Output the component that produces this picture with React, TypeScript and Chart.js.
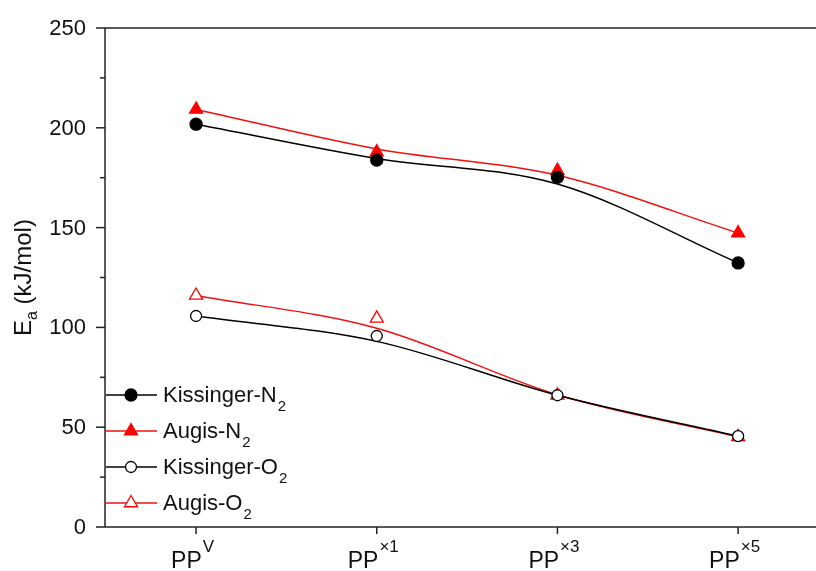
import { useEffect, useRef } from 'react';
import { Chart, registerables } from 'chart.js';

Chart.register(...registerables);

// ---- data ----
const categoryBase = ['PP', 'PP', 'PP', 'PP'];
const categorySup = ['V', '×1', '×3', '×5'];
const categoryPos = [0, 1, 2, 3];

const yTicks = [0, 50, 100, 150, 200, 250];
const yMinorTicks = [25, 75, 125, 175, 225];

// measured points
const kissingerN2 = [201.8, 183.8, 175.2, 132.3];
const augisN2 = [209.2, 187.8, 178.6, 147.3];
const kissingerO2 = [105.7, 95.7, 66.0, 45.5];
const augisO2 = [116.0, 104.5, 66.0, 45.2];

// smoothed fit curves (at each category)
const kissingerN2Fit = [201.8, 184.6, 171.8, 132.3];
const augisN2Fit = [209.2, 189.4, 176.2, 147.3];
const kissingerO2Fit = [105.7, 93.0, 66.0, 45.5];
const augisO2Fit = [116.0, 99.6, 66.3, 45.2];

const legendBase = ['Kissinger-N', 'Augis-N', 'Kissinger-O', 'Augis-O'];
const legendSub = ['2', '2', '2', '2'];

const BLACK = '#000000';
const RED = '#ff0000';
const RED_LINE = '#ee1111';
const FONT = '"Liberation Sans", Arial, sans-serif';

const toXY = (vals: number[]) => vals.map((v, i) => ({ x: categoryPos[i], y: v }));

type MarkerSpec = { style: string; color: string; filled: boolean; radius: number; lineColor: string };
const markerSpecs: MarkerSpec[] = [
  { style: 'circle', color: BLACK, filled: true, radius: 6, lineColor: BLACK },
  { style: 'triangle', color: RED, filled: true, radius: 7.5, lineColor: RED_LINE },
  { style: 'circle', color: BLACK, filled: false, radius: 5.5, lineColor: BLACK },
  { style: 'triangle', color: RED, filled: false, radius: 7.5, lineColor: RED_LINE },
];

const decorPlugin = {
  id: 'decor',
  afterDraw(chart: any) {
    const ctx: CanvasRenderingContext2D = chart.ctx;
    const { left, right, top, bottom } = chart.chartArea;
    const xs = chart.scales.x;
    const ys = chart.scales.y;
    ctx.save();
    ctx.strokeStyle = '#222';
    ctx.lineWidth = 1.5;
    const line = (x1: number, y1: number, x2: number, y2: number) => {
      ctx.beginPath();
      ctx.moveTo(x1, y1);
      ctx.lineTo(x2, y2);
      ctx.stroke();
    };
    // axes frame
    line(left, top, left, bottom);
    line(left, bottom, right, bottom);
    line(left, top, right, top);

    // y ticks
    ctx.fillStyle = '#111';
    ctx.font = `22px ${FONT}`;
    ctx.textAlign = 'right';
    ctx.textBaseline = 'middle';
    yTicks.forEach((v) => {
      const py = ys.getPixelForValue(v);
      line(left - 9, py, left, py);
      ctx.fillText(String(v), left - 19, py + 1);
    });
    yMinorTicks.forEach((v) => {
      const py = ys.getPixelForValue(v);
      line(left - 5, py, left, py);
    });

    // x ticks + labels
    ctx.textAlign = 'left';
    ctx.textBaseline = 'alphabetic';
    categoryPos.forEach((p, i) => {
      const px = xs.getPixelForValue(p);
      line(px, bottom, px, bottom + 7);
      ctx.font = `23px ${FONT}`;
      const wb = ctx.measureText(categoryBase[i]).width;
      ctx.font = `17px ${FONT}`;
      const wsup = ctx.measureText(categorySup[i]).width;
      const start = px - (wb + wsup) / 2 - 4;
      ctx.font = `23px ${FONT}`;
      ctx.fillText(categoryBase[i], start, bottom + 41);
      ctx.font = `17px ${FONT}`;
      ctx.fillText(categorySup[i], start + wb + 1, bottom + 25);
    });

    // y axis title
    ctx.save();
    ctx.translate(31, (top + bottom) / 2);
    ctx.rotate(-Math.PI / 2);
    ctx.font = `24px ${FONT}`;
    const wE = ctx.measureText('E').width;
    ctx.font = `16px ${FONT}`;
    const wa = ctx.measureText('a').width;
    ctx.font = `24px ${FONT}`;
    const wRest = ctx.measureText(' (kJ/mol)').width;
    const total = wE + wa + wRest;
    let cx = -total / 2;
    ctx.textBaseline = 'alphabetic';
    ctx.fillText('E', cx, 0);
    cx += wE;
    ctx.font = `16px ${FONT}`;
    ctx.fillText('a', cx, 6);
    cx += wa;
    ctx.font = `24px ${FONT}`;
    ctx.fillText(' (kJ/mol)', cx, 0);
    ctx.restore();

    // legend
    const rowY = [395, 431, 467, 503];
    legendBase.forEach((name, i) => {
      const y = rowY[i];
      const m = markerSpecs[i];
      ctx.strokeStyle = m.lineColor;
      ctx.lineWidth = 1.5;
      line(left + 1, y, left + 52, y);
      ctx.lineWidth = 1.3;
      ctx.strokeStyle = m.color;
      ctx.fillStyle = m.filled ? m.color : '#ffffff';
      ctx.beginPath();
      if (m.style === 'circle') {
        ctx.arc(left + 26, y, m.radius, 0, Math.PI * 2);
      } else {
        const r = m.radius;
        ctx.moveTo(left + 26, y - r);
        ctx.lineTo(left + 26 + r * Math.sin((2 * Math.PI) / 3), y - r * Math.cos((2 * Math.PI) / 3));
        ctx.lineTo(left + 26 + r * Math.sin((4 * Math.PI) / 3), y - r * Math.cos((4 * Math.PI) / 3));
        ctx.closePath();
      }
      ctx.fill();
      ctx.stroke();
      ctx.fillStyle = '#111';
      ctx.font = `22px ${FONT}`;
      ctx.textBaseline = 'middle';
      ctx.fillText(name, left + 58, y + 1);
      const wn = ctx.measureText(name).width;
      ctx.font = `15px ${FONT}`;
      ctx.fillText(legendSub[i], left + 58 + wn + 1, y + 12);
    });
    ctx.restore();
  },
};

export default function App() {
  const ref = useRef<HTMLCanvasElement | null>(null);
  useEffect(() => {
    document.body.style.margin = '0';
    if (!ref.current) return;
    const fitSet = (vals: number[], color: string) => ({
      data: toXY(vals),
      borderColor: color,
      borderWidth: 1.5,
      pointRadius: 0,
      showLine: true,
      fill: false,
      cubicInterpolationMode: 'monotone' as const,
      order: 2,
    });
    const markSet = (vals: number[], m: MarkerSpec) => ({
      data: toXY(vals),
      showLine: false,
      pointStyle: m.style,
      pointRadius: m.radius,
      pointBorderWidth: 1.3,
      pointBorderColor: m.color,
      pointBackgroundColor: m.filled ? m.color : '#ffffff',
      order: 1,
    });
    const chart = new Chart(ref.current, {
      type: 'scatter',
      data: {
        datasets: [
          fitSet(kissingerN2Fit, BLACK),
          fitSet(augisN2Fit, RED_LINE),
          fitSet(kissingerO2Fit, BLACK),
          fitSet(augisO2Fit, RED_LINE),
          markSet(kissingerN2, markerSpecs[0]),
          markSet(augisN2, markerSpecs[1]),
          markSet(kissingerO2, markerSpecs[2]),
          markSet(augisO2, markerSpecs[3]),
        ] as any,
      },
      options: {
        animation: false,
        responsive: false,
        devicePixelRatio: 1,
        layout: { autoPadding: false, padding: { left: 105, top: 28, right: 0, bottom: 44 } },
        plugins: { legend: { display: false }, tooltip: { enabled: false } },
        scales: {
          x: { type: 'linear', min: -0.504, max: 3.431, display: false },
          y: { type: 'linear', min: 0, max: 250, display: false },
        },
      },
      plugins: [decorPlugin],
    });
    return () => chart.destroy();
  }, []);
  return (
    <div style={{ width: 816, height: 571, background: '#fff' }}>
      <canvas ref={ref} width={816} height={571} />
    </div>
  );
}
